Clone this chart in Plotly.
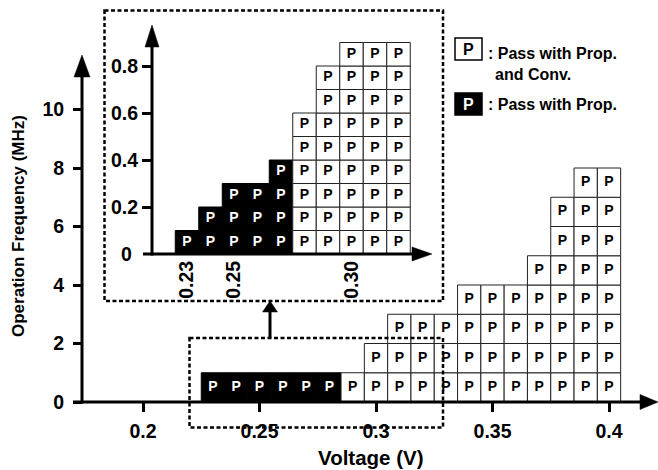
import plotly.graph_objects as go

W, H = 658, 470
FONT = "Liberation Sans, Arial, sans-serif"

# ---------------- data ----------------
# main chart: voltage (V) vs highest passing operation frequency (MHz), 1 MHz steps
main_volt = [0.23, 0.24, 0.25, 0.26, 0.27, 0.28, 0.29, 0.30, 0.31,
             0.32, 0.33, 0.34, 0.35, 0.36, 0.37, 0.38, 0.39, 0.40]
main_prop_only_mhz = [1, 1, 1, 1, 1, 1, 0, 0, 0, 0, 0, 0, 0, 0, 0, 0, 0, 0]
main_both_mhz = [0, 0, 0, 0, 0, 0, 1, 2, 3, 3, 3, 4, 4, 4, 5, 7, 8, 8]
main_step_mhz = 1.0

# inset (zoom of the low-voltage region), 0.1 MHz steps
inset_volt = [0.23, 0.24, 0.25, 0.26, 0.27, 0.28, 0.29, 0.30, 0.31, 0.32]
inset_prop_only_mhz = [0.1, 0.2, 0.3, 0.3, 0.4, 0, 0, 0, 0, 0]
inset_both_mhz = [0, 0, 0, 0, 0, 0.6, 0.8, 0.9, 0.9, 0.9]
inset_step_mhz = 0.1

main_xticks = [0.2, 0.25, 0.3, 0.35, 0.4]
main_xticktext = ["0.2", "0.25", "0.3", "0.35", "0.4"]
main_yticks = [0, 2, 4, 6, 8, 10]
inset_xticks = [0.23, 0.25, 0.30]
inset_xticktext = ["0.23", "0.25", "0.30"]
inset_yticks = [0.2, 0.4, 0.6, 0.8]
inset_yticktext = ["0.2", "0.4", "0.6", "0.8"]

cell_label = "P"
legend_both = ": Pass with Prop."
legend_both2 = "and Conv."
legend_prop = ": Pass with Prop."
x_title = "Voltage (V)"
y_title = "Operation Frequency (MHz)"

# ---------------- layout geometry (pixels) ----------------
# main axes scale
MX_PER_V, MX_REF_V, MX_REF_PX = 2330.0, 0.2, 143.0
MY_PER_MHZ, MY_ZERO_PX = 29.25, 402.0
# inset axes scale
IX_PER_V, IX_REF_V, IX_REF_PX = 2350.0, 0.23, 187.0
IY_PER_MHZ, IY_ZERO_PX = 235.0, 254.0

main_xrange = [MX_REF_V - MX_REF_PX / MX_PER_V, MX_REF_V + (W - MX_REF_PX) / MX_PER_V]
main_yrange = [-(H - MY_ZERO_PX) / MY_PER_MHZ, MY_ZERO_PX / MY_PER_MHZ]
inset_xrange = [IX_REF_V - IX_REF_PX / IX_PER_V, IX_REF_V + (W - IX_REF_PX) / IX_PER_V]
inset_yrange = [-(H - IY_ZERO_PX) / IY_PER_MHZ, IY_ZERO_PX / IY_PER_MHZ]


def px(x):
    return x / W


def py(y):
    return 1 - y / H


fig = go.Figure()


def add_cells(volts, maxes, step, fill, edge, txtcolor, xa, ya, fsize):
    nrows = int(round(max(maxes) / step))
    for k in range(nrows):
        xs = [v for v, m in zip(volts, maxes) if m >= (k + 1) * step - 1e-9]
        if not xs:
            continue
        n = len(xs)
        fig.add_trace(go.Bar(
            x=xs, y=[step] * n, base=[k * step] * n, width=0.01,
            marker=dict(color=fill, line=dict(color=edge, width=1)),
            xaxis=xa, yaxis=ya, hoverinfo="skip", showlegend=False))
        fig.add_trace(go.Scatter(
            x=xs, y=[k * step + step / 2] * n, mode="text",
            text=[cell_label] * n,
            textfont=dict(color=txtcolor, size=fsize, family=FONT, weight="bold"),
            xaxis=xa, yaxis=ya, hoverinfo="skip", showlegend=False))


add_cells(main_volt, main_prop_only_mhz, main_step_mhz, "black", "black", "white", "x", "y", 14)
add_cells(main_volt, main_both_mhz, main_step_mhz, "white", "#222222", "black", "x", "y", 14)
add_cells(inset_volt, inset_prop_only_mhz, inset_step_mhz, "black", "black", "white", "x2", "y2", 14)
add_cells(inset_volt, inset_both_mhz, inset_step_mhz, "white", "#222222", "black", "x2", "y2", 14)

tickfont = dict(family=FONT, size=19.5, color="black", weight="bold")
common = dict(showline=False, showgrid=False, zeroline=False, fixedrange=True)

shapes = []
LW = 3


def line(x0, y0, x1, y1, width=LW, dash=None):
    d = dict(type="line", xref="paper", yref="paper",
             x0=px(x0), y0=py(y0), x1=px(x1), y1=py(y1),
             line=dict(color="black", width=width))
    if dash:
        d["line"]["dash"] = dash
    shapes.append(d)


def tri(points):
    path = "M " + " L ".join(f"{px(x):.5f},{py(y):.5f}" for x, y in points) + " Z"
    shapes.append(dict(type="path", xref="paper", yref="paper", path=path,
                       fillcolor="black", line=dict(color="black", width=0.5)))


def rect(x0, y0, x1, y1, fill="rgba(0,0,0,0)", width=1.5, dash=None):
    d = dict(type="rect", xref="paper", yref="paper",
             x0=px(x0), y0=py(y0), x1=px(x1), y1=py(y1), fillcolor=fill,
             line=dict(color="black", width=width))
    if dash:
        d["line"]["dash"] = dash
    shapes.append(d)


# main axes with arrows
line(73, 402, 642, 402)
tri([(640, 394.5), (640, 409.5), (658, 402)])
line(82, 403.5, 82, 76)
tri([(74, 77), (90, 77), (82, 55)])
# inset axes with arrows
line(143, 254, 414, 254)
tri([(412, 247), (412, 261), (432, 254)])
line(152, 255.5, 152, 46)
tri([(145, 47), (159, 47), (152, 25)])

# dashed boxes and connecting arrow
DASH = "4px,2.5px"
rect(104.5, 10.5, 443, 301, width=2.5, dash=DASH)
rect(189.5, 338, 443, 427.5, width=2.5, dash=DASH)
line(270, 338, 270, 311)
tri([(262.5, 312), (277.5, 312), (270, 301)])

# legend boxes
rect(455, 38, 482, 60, fill="white", width=1.5)
rect(455, 93, 482, 115, fill="black", width=1.5)

annotations = []


def text(x, y, s, size, xanchor="left", color="black", angle=0):
    annotations.append(dict(
        xref="paper", yref="paper", x=px(x), y=py(y), text=s, showarrow=False,
        xanchor=xanchor, yanchor="middle", textangle=angle,
        font=dict(family=FONT, size=size, color=color, weight="bold")))


text(468.5, 49.5, cell_label, 16, xanchor="center")
text(468.5, 104.5, cell_label, 16, xanchor="center", color="white")
text(486, 53, legend_both, 16)
text(493, 74, legend_both2, 16)
text(486, 105, legend_prop, 16)
text(134, 254, "0", 19.5, xanchor="right")
text(371, 457, x_title, 20.5, xanchor="center")
text(19, 226, y_title, 17, xanchor="center", angle=-90)

fig.update_layout(
    width=W, height=H, margin=dict(l=0, r=0, t=0, b=0),
    paper_bgcolor="white", plot_bgcolor="rgba(0,0,0,0)",
    barmode="overlay", showlegend=False,
    xaxis=dict(domain=[0, 1], range=main_xrange, anchor="free", position=py(402),
               ticks="outside", ticklen=9, tickwidth=3, tickcolor="black",
               tickvals=main_xticks, ticktext=main_xticktext, tickfont=tickfont,
               ticklabelstandoff=3, **common),
    yaxis=dict(domain=[0, 1], range=main_yrange, anchor="free", position=px(82),
               ticks="outside", ticklen=9, tickwidth=3, tickcolor="black",
               tickvals=main_yticks, tickfont=tickfont, ticklabelstandoff=5, **common),
    xaxis2=dict(domain=[0, 1], range=inset_xrange, anchor="free", position=py(254),
                ticks="", tickvals=inset_xticks, ticktext=inset_xticktext,
                tickangle=-90, tickfont=tickfont, ticklabelstandoff=2, **common),
    yaxis2=dict(domain=[0, 1], range=inset_yrange, anchor="free", position=px(152),
                ticks="outside", ticklen=10, tickwidth=3, tickcolor="black",
                tickvals=inset_yticks, ticktext=inset_yticktext, tickfont=tickfont,
                ticklabelstandoff=0, **common),
    shapes=shapes, annotations=annotations,
)

fig.write_html(
    "out.html",
    config={"displayModeBar": False},
    post_script="document.body.style.margin='0';document.body.style.overflow='hidden';",
)
